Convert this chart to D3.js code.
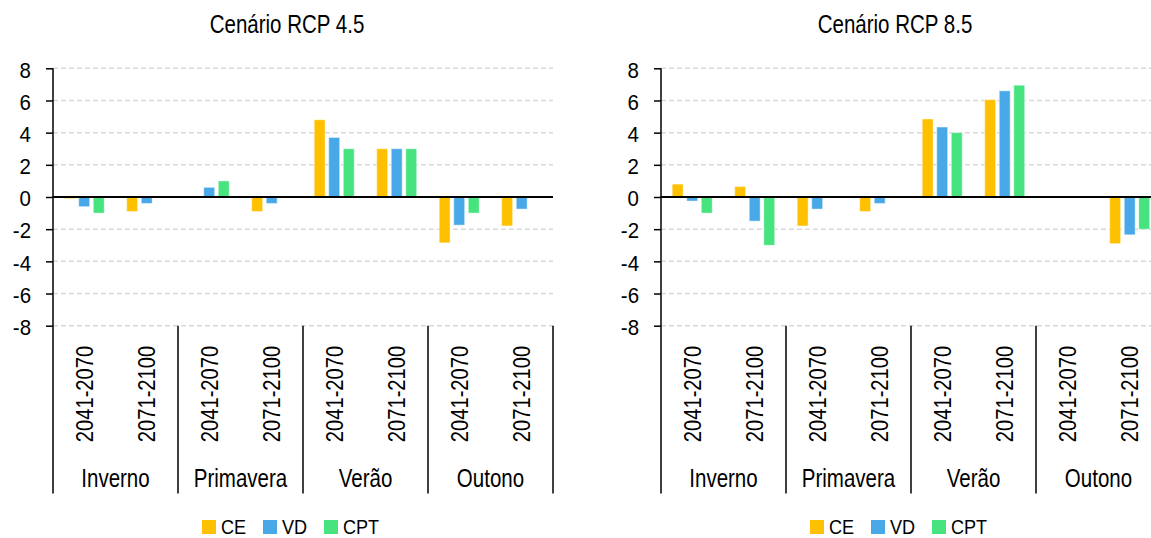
<!DOCTYPE html>
<html>
<head>
<meta charset="utf-8">
<script src="https://cdn.jsdelivr.net/npm/d3@7"></script>
<style>
  html, body { margin: 0; padding: 0; background: #fff; }
  svg { display: block; }
  text { font-family: "Liberation Sans", Arial, sans-serif; fill: #000; }
</style>
</head>
<body>
<svg id="chart" width="1151" height="538"></svg>
<script>
// ---- data ----
const seasons = ["Inverno", "Primavera", "Verão", "Outono"];
const periods = ["2041-2070", "2071-2100"];
const series = ["CE", "VD", "CPT"];
const seriesColors = ["#FFC000", "#48A8E8", "#46E37F"];
const yTicks = [-8, -6, -4, -2, 0, 2, 4, 6, 8];
const titles = ["Cenário RCP 4.5", "Cenário RCP 8.5"];

// values per season/period, order: Inverno(41-70, 71-00), Primavera(...), Verão(...), Outono(...)
const rcp45_CE  = [-0.1, -0.9, 0.05, -0.9, 4.8, 3.0, -2.85, -1.8];
const rcp45_VD  = [-0.6, -0.4, 0.6, -0.4, 3.7, 3.0, -1.75, -0.75];
const rcp45_CPT = [-1.0, 0.0, 1.0, 0.0, 3.0, 3.0, -1.0, 0.0];

const rcp85_CE  = [0.8, 0.65, -1.8, -0.9, 4.85, 6.05, 0.0, -2.9];
const rcp85_VD  = [-0.25, -1.5, -0.75, -0.4, 4.35, 6.6, 0.0, -2.35];
const rcp85_CPT = [-1.0, -3.0, 0.0, 0.0, 4.0, 6.95, 0.0, -2.0];

// ---- drawing ----
const svg = d3.select("#chart");

function narrow(sel, k) {
  sel.each(function () {
    const len = this.getComputedTextLength();
    d3.select(this).attr("textLength", len * k).attr("lengthAdjust", "spacingAndGlyphs");
  });
}

function drawChart(offsetX, title, ce, vd, cpt) {
  const g = svg.append("g").attr("transform", `translate(${offsetX},0)`);
  const left = 53, right = 553, top = 68.3, bottom = 325.7, axisBottom = 493.5;

  const cats = [];
  seasons.forEach(s => periods.forEach(p => cats.push(s + "|" + p)));
  const vals = [ce, vd, cpt];

  const x0 = d3.scaleBand().domain(cats).range([left, right]);
  const xs = d3.scaleBand().domain(seasons).range([left, right]);
  const x1 = d3.scaleBand().domain(series).range([11.2, 51.2]).paddingInner(0.25);
  const y = d3.scaleLinear().domain([-8, 8]).range([bottom, top]);

  // gridlines
  g.append("g").selectAll("line").data(yTicks.filter(t => t !== 0)).join("line")
    .attr("x1", left).attr("x2", right)
    .attr("y1", d => y(d)).attr("y2", d => y(d))
    .attr("stroke", "#d9d9d9").attr("stroke-width", 1.5)
    .attr("stroke-dasharray", "5,3");

  // y axis
  const yAxis = d3.axisLeft(y).tickValues(yTicks).tickSize(7).tickPadding(15).tickFormat(d => String(d));
  const ya = g.append("g").attr("transform", `translate(${left},0)`).call(yAxis);
  ya.select(".domain").remove();
  ya.selectAll(".tick line").attr("stroke", "#000").attr("stroke-width", 1.5);
  ya.selectAll(".tick text").attr("font-size", 22).attr("fill", "#000")
    .attr("dy", "0.4em")
    .style("font-family", '"Liberation Sans", Arial, sans-serif');
  narrow(ya.selectAll(".tick text"), 0.93);
  g.append("line").attr("x1", left).attr("x2", left).attr("y1", top).attr("y2", axisBottom)
    .attr("stroke", "#000").attr("stroke-width", 1.5);

  // bars
  const rows = [];
  cats.forEach((c, i) => series.forEach((s, j) => rows.push({ c, s, j, v: vals[j][i] })));
  g.append("g").selectAll("rect").data(rows.filter(r => r.v !== 0)).join("rect")
    .attr("x", d => x0(d.c) + x1(d.s))
    .attr("width", x1.bandwidth())
    .attr("y", d => y(Math.max(0, d.v)))
    .attr("height", d => Math.abs(y(d.v) - y(0)))
    .attr("fill", d => seriesColors[d.j])
    .attr("stroke", "rgba(255,255,255,0.45)").attr("stroke-width", 1);

  // zero line
  g.append("line").attr("x1", left).attr("x2", right).attr("y1", y(0)).attr("y2", y(0))
    .attr("stroke", "#000").attr("stroke-width", 2.2);

  // group separators
  g.append("g").selectAll("line").data(seasons).join("line")
    .attr("x1", d => xs(d) + xs.bandwidth()).attr("x2", d => xs(d) + xs.bandwidth())
    .attr("y1", bottom).attr("y2", axisBottom)
    .attr("stroke", "#000").attr("stroke-width", 1.5);

  // period labels
  const pl = g.append("g").selectAll("text").data(cats).join("text")
    .attr("transform", d => `translate(${x0(d) + x0.bandwidth() / 2},394) rotate(-90)`)
    .attr("text-anchor", "middle").attr("dy", "0.36em")
    .attr("font-size", 24)
    .text(d => d.split("|")[1]);
  narrow(pl, 0.84);

  // season labels
  const sl = g.append("g").selectAll("text").data(seasons).join("text")
    .attr("x", d => xs(d) + xs.bandwidth() / 2).attr("y", 487)
    .attr("text-anchor", "middle").attr("font-size", 25)
    .text(d => d);
  narrow(sl, 0.82);

  // title
  const tt = g.append("text").attr("x", 287).attr("y", 33).attr("text-anchor", "middle")
    .attr("font-size", 25).text(title);
  narrow(tt, 0.82);

  // legend
  const legX = [202, 263, 324];
  const lg = g.append("g").selectAll("g").data(series).join("g")
    .attr("transform", (d, i) => `translate(${legX[i]},520)`);
  lg.append("rect").attr("width", 14).attr("height", 14).attr("fill", (d, i) => seriesColors[i]);
  const lt = lg.append("text").attr("x", 19).attr("y", 14).attr("font-size", 21).text(d => d);
  narrow(lt, 0.86);
}

drawChart(0, titles[0], rcp45_CE, rcp45_VD, rcp45_CPT);
drawChart(608, titles[1], rcp85_CE, rcp85_VD, rcp85_CPT);
</script>
</body>
</html>
